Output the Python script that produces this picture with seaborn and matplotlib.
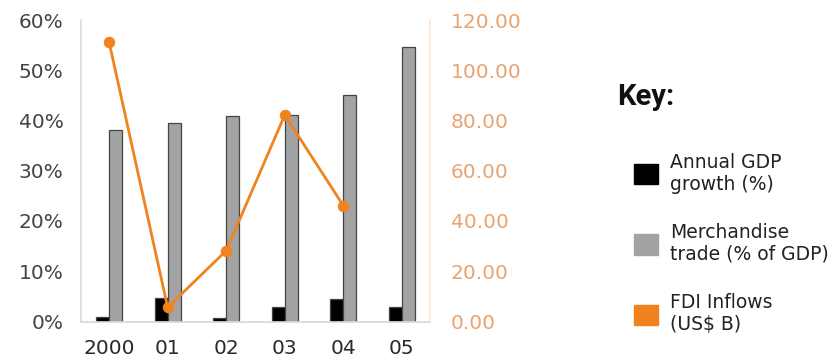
import numpy as np
import pandas as pd
import matplotlib
matplotlib.use("Agg")
import matplotlib.pyplot as plt
from matplotlib.patches import Patch
import seaborn as sns

years = ["2000", "01", "02", "03", "04", "05"]
gdp_growth = [0.8, 4.6, 0.7, 2.8, 4.4, 2.8]
merch_trade = [38.2, 39.6, 40.8, 41.0, 45.1, 54.7]
fdi_years = ["2000", "01", "02", "03", "04"]
fdi_inflows = [111.2, 5.6, 28.2, 82.2, 46.1]

left_ticks = [0, 10, 20, 30, 40, 50, 60]
right_ticks = [0, 20, 40, 60, 80, 100, 120]

series_names = ["Annual GDP\ngrowth (%)", "Merchandise\ntrade (% of GDP)", "FDI Inflows\n(US$ B)"]
c_black = "#000000"
c_gray = "#A3A3A3"
c_orange = "#F0831E"
c_orange_lbl = "#E8A470"
c_text = "#444444"

sns.set_theme(style="white")
plt.rcParams["font.family"] = ["DejaVu Sans"]

df = pd.DataFrame({
    "year": years * 2,
    "value": gdp_growth + merch_trade,
    "series": [series_names[0]] * len(years) + [series_names[1]] * len(years),
})

fig = plt.figure(figsize=(8.33, 3.62), dpi=100)
ax = fig.add_axes([81 / 833, 1 - 321.5 / 362, 349 / 833, 301.5 / 362])

sns.barplot(data=df, x="year", y="value", hue="series", order=years,
            hue_order=series_names[:2], palette=[c_black, c_gray],
            width=0.44, edgecolor="#444444", linewidth=0.9, ax=ax, legend=False)
ax.set_ylim(0, 60)
ax.set_xlim(-0.48, 5.48)
ax.set_yticks(left_ticks)
ax.set_yticklabels([f"{t}%" for t in left_ticks], color=c_text, fontsize=14.5)
ax.set_xticks(range(len(years)))
ax.set_xticklabels(years, color="#2a2a2a", fontsize=14.5)
ax.set_xlabel("")
ax.set_ylabel("")
ax.tick_params(axis="both", length=0)
ax.tick_params(axis="x", pad=12.5)
ax.tick_params(axis="y", pad=12.5)
for s in ["top", "right"]:
    ax.spines[s].set_visible(False)
ax.spines["left"].set_color("#DDDDDD")
ax.spines["bottom"].set_color("#D8D8D8")

ax2 = ax.twinx()
fdi_pos = [years.index(y) for y in fdi_years]
sns.lineplot(x=fdi_pos, y=fdi_inflows, color=c_orange, linewidth=2,
             marker="o", markersize=7.5, markeredgecolor=c_orange, ax=ax2)
ax2.set_ylim(0, 120)
ax2.set_yticks(right_ticks)
ax2.set_yticklabels([f"{t:.2f}" for t in right_ticks], color=c_orange_lbl, fontsize=14.5)
ax2.tick_params(axis="y", length=0, pad=15)
for s in ["top", "left", "bottom"]:
    ax2.spines[s].set_visible(False)
ax2.spines["right"].set_color("#FBE6D6")
ax2.set_ylabel("")

fig.text(617 / 833, 1 - 105 / 362, "Key:", fontsize=21, fontweight="bold",
         family=["Roboto", "DejaVu Sans"], va="baseline", ha="left", color="#111111")

handles = [Patch(facecolor=c_black, edgecolor=c_black),
           Patch(facecolor=c_gray, edgecolor=c_gray),
           Patch(facecolor=c_orange, edgecolor=c_orange)]
fig.legend(handles, series_names, loc="upper left",
           bbox_to_anchor=(634 / 833, 1 - 152.5 / 362), frameon=False,
           fontsize=13.5, handlelength=1.28, handleheight=1.28, handletextpad=0.64,
           labelspacing=1.56, borderpad=0, borderaxespad=0, labelcolor="#222222")

fig.savefig("out.png", dpi=100)
